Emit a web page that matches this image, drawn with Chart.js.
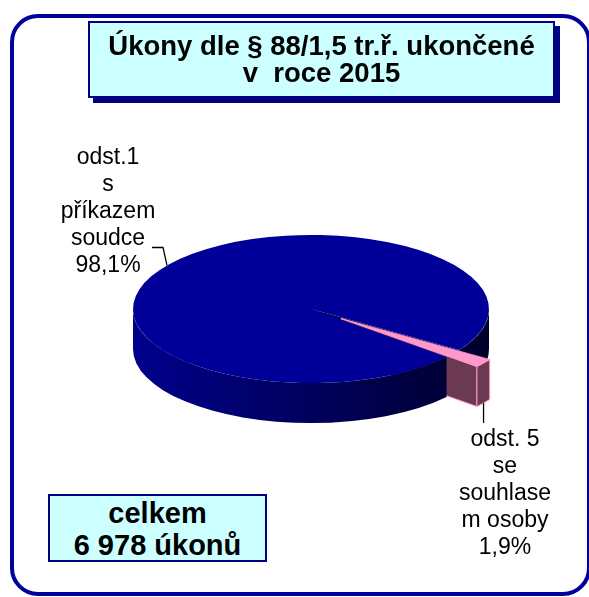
<!DOCTYPE html>
<html>
<head>
<meta charset="utf-8">
<script src="https://cdn.jsdelivr.net/npm/chart.js@4"></script>
<style>
  html, body { margin: 0; padding: 0; background: #fff; }
  #wrap { position: relative; width: 589px; height: 597px; overflow: hidden; font-family: "Liberation Sans", Arial, sans-serif; }
  #frame { position: absolute; left: 10px; top: 14px; width: 581px; height: 582px; box-sizing: border-box;
           border: 4px solid #00009c; border-radius: 28px; }
  #pie { position: absolute; left: 0; top: 0; }
  .box { position: absolute; box-sizing: border-box; background: #ccffff; border: 2px solid #000080;
         text-align: center; font-weight: bold; color: #000; }
  #title { left: 88px; top: 21px; width: 467px; height: 77px; font-size: 27.5px; line-height: 27px;
           padding-top: 9px; box-shadow: 5px 5px 0 #000080; }
  #total { left: 48px; top: 494px; width: 219px; height: 68px; font-size: 29px; line-height: 32px; padding-top: 1px; }
</style>
</head>
<body>
<div id="wrap">
  <div id="frame"></div>
  <canvas id="pie" width="589" height="597"></canvas>
  <div class="box" id="title">Úkony dle § 88/1,5 tr.ř. ukončené<br>v&nbsp; roce 2015</div>
  <div class="box" id="total">celkem<br>6 978 úkonů</div>
</div>
<script>
(function () {
    // data
    var categories = ["odst.1 s příkazem soudce", "odst. 5 se souhlasem osoby"];
    var labelLines = [
        ["odst.1", "s", "příkazem", "soudce"],
        ["odst. 5", "se", "souhlase", "m osoby"],
    ];
    var shares = [98.1, 1.9];

    var topColors = ["#000099", "#ff99cc"];

    function fmt(v) {
        return v.toFixed(1).replace(".", ",") + "%";
    }

    // flat pie drawn squashed, with side walls and an exploded slice
    var pie3d = {
        id: "pie3d",
        afterDatasetUpdate: function (chart, args, opts) {
            var meta = chart.getDatasetMeta(args.index);
            meta.data.forEach(function (el, i) {
                var d = opts.explode[i] || 0;
                if (!d) return;
                var mid = (el.startAngle + el.endAngle) / 2;
                el.x += d * Math.cos(mid);
                el.y += d * Math.sin(mid);
            });
        },
        beforeDatasetsDraw: function (chart, args, opts) {
            var ctx = chart.ctx;
            var area = chart.chartArea;
            var cy = (area.top + area.bottom) / 2;
            var k = opts.tilt, depth = opts.depth;
            var meta = chart.getDatasetMeta(0);
            var pieces = [];

            function finish(side) {
                if (side.edge) {
                    ctx.strokeStyle = side.edge;
                    ctx.lineWidth = 1;
                    ctx.stroke();
                }
            }

            meta.data.forEach(function (el, i) {
                var sx = el.x, sy = cy + k * (el.y - cy), r = el.outerRadius;
                var s = el.startAngle, e = el.endAngle;
                var side = opts.sides[i];

                function addFace(a) {
                    var ox = sx + r * Math.cos(a), oy = sy + k * r * Math.sin(a);
                    pieces.push({
                        key: Math.max(sy, oy) + depth,
                        draw: function () {
                            ctx.beginPath();
                            ctx.moveTo(sx, sy);
                            ctx.lineTo(ox, oy);
                            ctx.lineTo(ox, oy + depth);
                            ctx.lineTo(sx, sy + depth);
                            ctx.closePath();
                            ctx.fillStyle = side.face;
                            ctx.fill();
                            finish(side);
                        },
                    });
                }

                if (Math.cos(e) > 0) addFace(e);
                if (Math.cos(s) < 0) addFace(s);

                [-2, 0, 2, 4].forEach(function (n) {
                    var base = n * Math.PI;
                    var lo = Math.max(s, base), hi = Math.min(e, base + Math.PI);
                    if (hi <= lo) return;
                    var top = base + Math.PI / 2;
                    var maxSin = (lo <= top && top <= hi) ? 1 : Math.max(Math.sin(lo), Math.sin(hi));
                    pieces.push({
                        key: sy + k * r * maxSin + depth,
                        draw: function () {
                            var grad = ctx.createLinearGradient(sx - r, 0, sx + r, 0);
                            grad.addColorStop(0, side.wall[0]);
                            grad.addColorStop(1, side.wall[1]);
                            ctx.beginPath();
                            ctx.ellipse(sx, sy, r, r * k, 0, lo, hi);
                            ctx.ellipse(sx, sy + depth, r, r * k, 0, hi, lo, true);
                            ctx.closePath();
                            ctx.fillStyle = grad;
                            ctx.fill();
                            finish(side);
                        },
                    });
                });
            });

            // back to front
            pieces.sort(function (a, b) { return a.key - b.key; });
            ctx.save();
            pieces.forEach(function (p) { p.draw(); });
            ctx.restore();

            ctx.save();
            ctx.translate(0, cy);
            ctx.scale(1, k);
            ctx.translate(0, -cy);
        },
        afterDatasetsDraw: function (chart) {
            chart.ctx.restore();
        },
        afterDraw: function (chart, args, opts) {
            var ctx = chart.ctx;
            var area = chart.chartArea;
            var cx = (area.left + area.right) / 2;
            var cy = (area.top + area.bottom) / 2;
            var k = opts.tilt, depth = opts.depth;
            var meta = chart.getDatasetMeta(0);

            ctx.save();
            ctx.font = "23px 'Liberation Sans', Arial, sans-serif";
            ctx.fillStyle = "#000";
            ctx.strokeStyle = "#000";
            ctx.lineWidth = 1.3;
            ctx.textAlign = "center";
            ctx.textBaseline = "middle";

            opts.labels.forEach(function (lb, i) {
                var el = meta.data[i];
                var sx = el.x, sy = cy + k * (el.y - cy), r = el.outerRadius;
                var a = lb.angle != null ? lb.angle * Math.PI / 180 : (el.startAngle + el.endAngle) / 2;
                var px = sx + r * Math.cos(a);
                var py = sy + k * r * Math.sin(a) + (lb.bottom ? depth : 0);
                ctx.beginPath();
                ctx.moveTo(px, py);
                lb.path.forEach(function (p) { ctx.lineTo(px + p[0], py + p[1]); });
                ctx.stroke();

                var lines = labelLines[i].concat([fmt(shares[i])]);
                lines.forEach(function (t, j) {
                    ctx.fillText(t, cx + lb.dx, cy + lb.dy + j * 27);
                });
            });
            ctx.restore();
        },
    };

    new Chart(document.getElementById("pie"), {
        type: "pie",
        data: {
            labels: categories,
            datasets: [{
                data: shares,
                backgroundColor: topColors,
                borderColor: topColors,
                borderWidth: [0, 1],
            }],
        },
        options: {
            responsive: false,
            animation: false,
            events: [],
            rotation: 130.4,
            radius: 178,
            layout: { padding: { left: 40, right: 7, top: 30, bottom: 9 } },
            plugins: {
                legend: { display: false },
                tooltip: { enabled: false },
                pie3d: {
                    tilt: 0.416,
                    depth: 40,
                    explode: [0, 38],
                    sides: [
                        { face: "#000050", wall: ["#00008c", "#00002c"] },
                        { face: "#6b3a52", wall: ["#6b3a52", "#6b3a52"], edge: "#ff99cc" },
                    ],
                    labels: [
                        { angle: 216, path: [[-4, -18], [-15, -18]], dx: -203, dy: -151 },
                        { bottom: true, path: [[0, 20]], dx: 194, dy: 131 },
                    ],
                },
            },
        },
        plugins: [pie3d],
    });
})();
</script>
</body>
</html>
